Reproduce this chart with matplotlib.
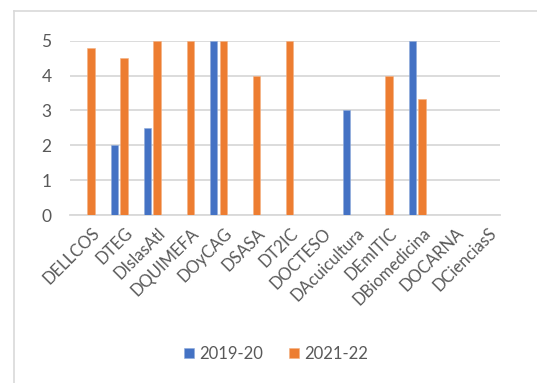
import matplotlib
matplotlib.use("Agg")
import matplotlib.pyplot as plt
import matplotlib.transforms as mtransforms
import numpy as np
from matplotlib.lines import Line2D

plt.rcParams["font.family"] = ["Lato", "DejaVu Sans"]

categories = ["DELLCOS", "DTEG", "DIslasAtl", "DQUIMEFA", "DOyCAG", "DSASA", "DT2IC",
              "DOCTESO", "DAcuicultura", "DEmITIC", "DBiomedicina", "DOCARNA", "DCienciasS"]
s2019 = [0, 2, 2.5, 0, 5, 0, 0, 0, 3, 0, 5, 0, 0]
s2021 = [4.8, 4.5, 5, 5, 5, 4, 5, 0, 0, 4, 3.33, 0, 0]
series_names = ["2019-20", "2021-22"]

W, H = 537, 383
fig = plt.figure(figsize=(W / 100, H / 100), dpi=100)
ax = fig.add_axes([69.5 / W, 1 - 215 / H, (500 - 69.5) / W, (215 - 40.7) / H])

x = np.arange(len(categories))
bw = 0.22
off = 0.145
ax.bar(x - off, s2019, bw, color="#4472C4", edgecolor="#8eaadb", linewidth=0.4,
       label=series_names[0], zorder=3)
ax.bar(x + off, s2021, bw, color="#ED7D31", edgecolor="#f4b183", linewidth=0.4,
       label=series_names[1], zorder=3)

ax.set_xlim(-0.5, len(categories) - 0.5)
ax.set_ylim(0, 5)
ax.set_yticks([0, 1, 2, 3, 4, 5])
ax.yaxis.grid(True, color="#d9d9d9", linewidth=1.3, zorder=0)
ax.set_axisbelow(True)
for s in ["top", "right", "left"]:
    ax.spines[s].set_visible(False)
ax.spines["bottom"].set_color("#d9d9d9")
ax.spines["bottom"].set_linewidth(1.3)
ax.spines["bottom"].set_zorder(1)
ax.tick_params(axis="both", length=0, colors="#595959")
ax.tick_params(axis="y", labelsize=12.5, pad=13)
ax.set_xticks(x)
ax.set_xticklabels(categories, rotation=45, ha="right", va="top",
                   rotation_mode="anchor", fontsize=12, color="#595959")
ax.tick_params(axis="x", pad=5)
shift = mtransforms.ScaledTranslation(5 / 100, -3 / 100, fig.dpi_scale_trans)
for lbl in ax.get_xticklabels():
    lbl.set_transform(lbl.get_transform() + shift)

leg = fig.legend(loc="center", bbox_to_anchor=(276 / W, 1 - 354 / H), ncol=2,
                 frameon=False, fontsize=12, handlelength=0.6, handleheight=0.6,
                 handletextpad=0.35, columnspacing=1.5)
for t in leg.get_texts():
    t.set_color("#595959")

# chart frame (partially visible)
fig.add_artist(Line2D([13.5 / W, 13.5 / W], [0, 1 - 11 / H], transform=fig.transFigure,
                      color="#d9d9d9", linewidth=1.2))
fig.add_artist(Line2D([13.5 / W, 1], [1 - 11 / H, 1 - 11 / H], transform=fig.transFigure,
                      color="#d9d9d9", linewidth=1.2))

fig.savefig("out.png", dpi=100)
